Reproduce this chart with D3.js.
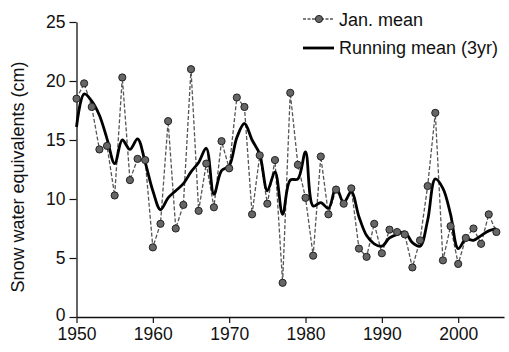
<!DOCTYPE html>
<html>
<head>
<meta charset="utf-8">
<script src="https://cdn.jsdelivr.net/npm/d3@7"></script>
<style>
  html, body { margin: 0; padding: 0; background: #fff; }
  svg { display: block; }
  text { font-family: "Liberation Sans", Arial, Helvetica, sans-serif; fill: #111; }
</style>
</head>
<body>
<svg id="chart" width="509" height="352"></svg>
<script>
// ---- data ----
const years = d3.range(1950, 2006);
const janMean = [
  18.5, 19.8, 17.8, 14.2, 14.5, 10.3, 20.3, 11.6, 13.4, 13.3,
  5.9, 7.9, 16.6, 7.5, 9.5, 21.0, 9.0, 13.0, 9.3, 14.9,
  12.6, 18.6, 17.8, 8.7, 13.7, 9.6, 13.3, 2.9, 19.0, 12.9,
  10.1, 5.2, 13.6, 8.7, 10.8, 9.6, 10.9, 5.8, 5.1, 7.9,
  5.4, 7.4, 7.2, 7.0, 4.2, 6.5, 11.1, 17.3, 4.8, 7.7,
  4.5, 6.7, 7.5, 6.2, 8.7, 7.2
];
const runningMean = [
  16.1, 18.9, 18.3, 17.1, 15.1, 13.0, 15.0, 14.2, 15.1, 13.1,
  10.7, 9.1, 10.1, 10.7, 11.3, 12.3, 13.1, 14.3, 10.4, 12.4,
  12.8, 15.2, 16.4, 15.0, 13.8, 10.7, 12.3, 8.7, 11.6, 11.7,
  14.0, 9.4, 9.7, 9.2, 11.0, 9.7, 10.6, 8.5, 6.9, 6.2,
  6.0, 6.7, 7.0, 7.2, 6.3, 6.0, 8.2, 11.7, 10.9, 8.7,
  5.8, 6.6, 6.5, 6.9, 7.3, 7.5
];
const xTicks = [1950, 1960, 1970, 1980, 1990, 2000];
const yTicks = [0, 5, 10, 15, 20, 25];
const yLabel = "Snow water equivalents (cm)";
const legendLabels = ["Jan. mean", "Running mean (3yr)"];

// ---- drawing ----
const svg = d3.select("#chart");
const x = d3.scaleLinear().domain([1950, 2006]).range([76.5, 504]);
const y = d3.scaleLinear().domain([0, 25]).range([317, 22]);

const fs = 18;
const tfs = 17.5;

// axes
const xAxis = d3.axisBottom(x).tickValues(xTicks).tickFormat(d3.format("d"))
  .tickSize(6).tickPadding(5).tickSizeOuter(0);
const gx = svg.append("g").attr("transform", `translate(0,${y(0)})`).call(xAxis);
gx.select(".domain").attr("stroke", "#111").attr("stroke-width", 1.3);
gx.selectAll(".tick line").attr("stroke", "#111").attr("stroke-width", 1.2);
gx.selectAll(".tick text").attr("font-size", tfs).attr("fill", "#111")
  .style("font-family", '"Liberation Sans", Arial, sans-serif');

const yAxis = d3.axisLeft(y).tickValues(yTicks).tickSize(7).tickPadding(4).tickSizeOuter(0);
const gy = svg.append("g").attr("transform", `translate(${x(1950)},0)`).call(yAxis);
gy.select(".domain").attr("stroke", "#111").attr("stroke-width", 1.3);
gy.selectAll(".tick line").attr("stroke", "#111").attr("stroke-width", 1.2);
gy.selectAll(".tick text").attr("font-size", tfs).attr("fill", "#111")
  .style("font-family", '"Liberation Sans", Arial, sans-serif');
// nudge the "0" label up slightly so it clears the "1950" label
gy.selectAll(".tick").filter(d => d === 0).select("text").attr("y", -2);

// y label
svg.append("text")
  .attr("transform", `translate(24,${177}) rotate(-90)`)
  .attr("text-anchor", "middle")
  .attr("font-size", fs)
  .text(yLabel);

// Jan mean dashed line
const janData = years.map((yr, i) => [yr, janMean[i]]);
svg.append("path")
  .datum(janData)
  .attr("fill", "none")
  .attr("stroke", "#555")
  .attr("stroke-width", 1.3)
  .attr("stroke-dasharray", "4,2")
  .attr("d", d3.line().x(d => x(d[0])).y(d => y(d[1])));

// running mean
const rmData = years.map((yr, i) => [yr, runningMean[i]]);
svg.append("path")
  .datum(rmData)
  .attr("fill", "none")
  .attr("stroke", "#000")
  .attr("stroke-width", 2.8)
  .attr("stroke-linejoin", "round")
  .attr("d", d3.line().curve(d3.curveCatmullRom.alpha(0.5)).x(d => x(d[0])).y(d => y(d[1])));

// dots
svg.append("g").selectAll("circle")
  .data(janData)
  .join("circle")
  .attr("cx", d => x(d[0]))
  .attr("cy", d => y(d[1]))
  .attr("r", 3.6)
  .attr("fill", "#666")
  .attr("stroke", "#222")
  .attr("stroke-width", 1);

// legend
const lg = svg.append("g");
lg.append("line").attr("x1", 303).attr("x2", 334).attr("y1", 19).attr("y2", 19)
  .attr("stroke", "#555").attr("stroke-width", 1.3).attr("stroke-dasharray", "3,1.5");
lg.append("circle").attr("cx", 319).attr("cy", 19).attr("r", 3.6)
  .attr("fill", "#666").attr("stroke", "#222").attr("stroke-width", 1);
lg.append("text").attr("x", 339).attr("y", 26).attr("font-size", fs).text(legendLabels[0]);
lg.append("line").attr("x1", 303).attr("x2", 334).attr("y1", 48).attr("y2", 48)
  .attr("stroke", "#000").attr("stroke-width", 2.8);
lg.append("text").attr("x", 339).attr("y", 54).attr("font-size", fs).text(legendLabels[1]);
</script>
</body>
</html>
